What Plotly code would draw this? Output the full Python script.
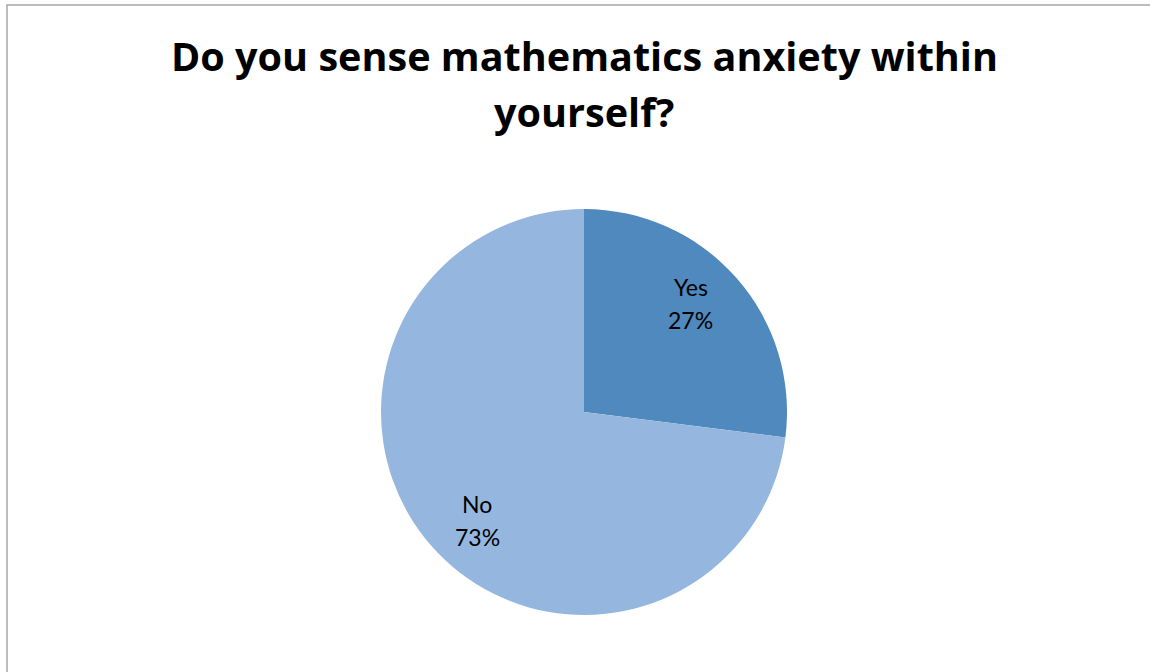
import math
import plotly.graph_objects as go

labels = ["Yes", "No"]
values = [27, 73]
colors = ["#4F89BD", "#95B7DF"]
title_lines = ["Do you sense mathematics anxiety within", "yourself?"]

W, H = 1150, 672
cx, cy, R = 584, 412, 203  # pixel geometry of pie

fig = go.Figure()
fig.add_trace(go.Pie(
    labels=labels, values=values, sort=False, direction="clockwise", rotation=0,
    marker=dict(colors=colors, line=dict(width=0)),
    textinfo="none", hoverinfo="label+percent", showlegend=False,
    domain=dict(x=[(cx - R) / W, (cx + R) / W], y=[(H - cy - R) / H, (H - cy + R) / H]),
))

# data labels near slice bisectors (category line and percent line)
total = sum(values)
start = 0.0
for lab, v in zip(labels, values):
    mid = (start + v / 2) / total * 2 * math.pi - math.radians(4)
    start += v
    px = cx + 0.75 * R * math.sin(mid)
    py = cy - 0.75 * R * math.cos(mid)
    for txt, dy in ((lab, -16.5), (f"{round(v / total * 100)}%", 16.5)):
        fig.add_annotation(
            x=px / W, y=1 - (py + dy) / H, xref="paper", yref="paper",
            xanchor="center", yanchor="middle",
            text=txt, showarrow=False,
            font=dict(family="Lato", size=23, color="#000000"),
        )

# title (two lines)
title_y = [56, 112]
for line, ty in zip(title_lines, title_y):
    fig.add_annotation(
        x=cx / W, y=1 - ty / H, xref="paper", yref="paper",
        xanchor="center", yanchor="middle", showarrow=False,
        text=f"<b>{line}</b>",
        font=dict(family="Open Sans", size=39.6, color="#000000"),
    )

fig.add_shape(type="rect", xref="paper", yref="paper",
              x0=7 / W, x1=1.02, y0=-0.02, y1=1 - 5 / H,
              line=dict(color="#A6A6A6", width=1.5), fillcolor="rgba(0,0,0,0)")

fig.update_layout(
    width=W, height=H,
    margin=dict(l=0, r=0, t=0, b=0),
    paper_bgcolor="white", plot_bgcolor="white",
)
fig.write_html("out.html", config={"displayModeBar": False},
               post_script="document.body.style.margin='0';")
